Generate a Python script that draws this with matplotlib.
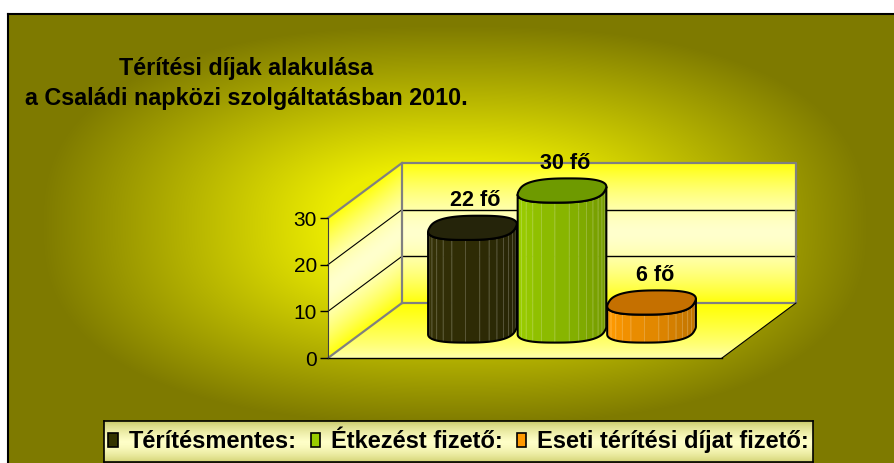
import numpy as np
import matplotlib
matplotlib.use("Agg")
import matplotlib.pyplot as plt
from matplotlib.patches import Polygon, Patch
from matplotlib.colors import to_rgb

#===[ ADATOK ]===============================================================#
kategoriak = ["Térítésmentes:", "Étkezést fizető:", "Eseti térítési díjat fizető:"]
ertekek = [22, 30, 6]
cimkek = ["22 fő", "30 fő", "6 fő"]
y_tickek = [0, 10, 20, 30]
cim_1 = "Térítési díjak alakulása"
cim_2 = "a Családi napközi szolgáltatásban 2010."

#===[ STILUS ]===============================================================#
oszlop_szinek = ["#343106", "#99cc00", "#ff9900"]
teto_szinek = ["#25240a", "#6e9a00", "#c57000"]
jelmagyarazat_szinek = ["#333300", "#99cc00", "#ff9900"]

W, H = 895, 463
X0_PX, X1_PX = 328, 722        # elso sik bal/jobb szele
Y0_PX, YMAX_PX = 358, 218      # 0 es 30 ertek magassaga (felulrol)
MELYSEG_PX = (74, 55)
Y_MAX = 30
GAP = 1.4

plt.rcParams['font.family'] = ['Liberation Sans', 'DejaVu Sans']

ppx = X1_PX - X0_PX
ppy = (Y0_PX - YMAX_PX) / Y_MAX
DX = MELYSEG_PX[0] / ppx
DY = MELYSEG_PX[1] / ppy


def px_x(px):
    return (px - X0_PX) / ppx


def px_y(py):
    return (Y0_PX - py) / ppy


def keverd(c1, c2, t):
    c1 = np.array(c1, dtype=float) / 255
    c2 = np.array(c2, dtype=float) / 255
    t = np.clip(t, 0, 1)[..., None]
    return c1 * (1 - t) + c2 * t


fig = plt.figure(figsize=(W / 100, H / 100), dpi=100)

#===[ HATTER ]===============================================================#
bg = fig.add_axes([0, 0, 1, 1])
bg.set_xlim(0, W)
bg.set_ylim(H, 0)
bg.axis('off')
gx, gy = np.meshgrid(np.arange(W) + 0.5, np.arange(H) + 0.5)
u = ((np.abs(gx - 455) / 440) ** 2.5 + (np.abs(gy - 225) / 212) ** 2.5) ** (1 / 2.5)
f = np.clip((u - 0.28) / 0.66, 0, 1)
kep = keverd((236, 236, 0), (126, 122, 0), f)
kep[(gx < 8) | (gy < 14)] = 1.0
bg.imshow(kep, extent=(0, W, H, 0), aspect='auto', interpolation='bilinear', zorder=0)
bg.plot([8, 8], [14, H], color='black', lw=1.5, zorder=1)
bg.plot([8, W], [14, 14], color='black', lw=1.5, zorder=1)

#===[ FO TENGELY ]===========================================================#
ax = fig.add_axes([0, 0, 1, 1])
ax.set_facecolor('none')
ax.set_xlim(px_x(0), px_x(W))
ax.set_ylim(px_y(H), px_y(0))


def gradiens_poligon(csucsok, szin_fv, zorder):
    csucsok = np.array(csucsok)
    x0, y0 = csucsok.min(axis=0)
    x1, y1 = csucsok.max(axis=0)
    mx, my = np.meshgrid(np.linspace(x0, x1, 200), np.linspace(y0, y1, 200))
    im = ax.imshow(szin_fv(mx, my), extent=(x0, x1, y0, y1), origin='lower',
                   aspect='auto', interpolation='bilinear', zorder=zorder)
    im.set_clip_path(Polygon(csucsok, closed=True, transform=ax.transData))


def fal_szin(v):
    t = np.abs(v / Y_MAX * 2 - 1)
    return keverd((255, 255, 205), (255, 255, 10), t ** 1.6)


hatso = [(DX, DY), (1 + DX, DY), (1 + DX, Y_MAX + DY), (DX, Y_MAX + DY)]
oldal = [(0, 0), (DX, DY), (DX, Y_MAX + DY), (0, Y_MAX)]
padlo = [(0, 0), (1, 0), (1 + DX, DY), (DX, DY)]

gradiens_poligon(hatso, lambda x, y: fal_szin(y - DY), 0.2)
gradiens_poligon(oldal, lambda x, y: fal_szin(y - (x / DX) * DY), 0.2)
gradiens_poligon(padlo, lambda x, y: keverd((255, 255, 175), (255, 255, 0), (y / DY) ** 0.8), 0.2)

# racsvonalak
for v in y_tickek[1:-1]:
    ax.plot([DX, 1 + DX], [v + DY, v + DY], color='black', lw=1, zorder=0.5)
    ax.plot([0, DX], [v, v + DY], color='black', lw=0.8, zorder=0.5)

# falak kerete
hx = [p[0] for p in hatso] + [hatso[0][0]]
hy = [p[1] for p in hatso] + [hatso[0][1]]
ax.plot(hx, hy, color='#808080', lw=1.6, zorder=0.6)
ax.plot([0, DX], [Y_MAX, Y_MAX + DY], color='#808080', lw=1.6, zorder=0.6)
ax.plot([0, DX], [0, DY], color='#808080', lw=1.6, zorder=0.6)
ax.plot([0, 1], [0, 0], color='black', lw=1, zorder=0.6)
ax.plot([1, 1 + DX], [0, DY], color='black', lw=0.8, zorder=0.6)

# y tengely
for nev in ['top', 'right', 'bottom']:
    ax.spines[nev].set_visible(False)
ax.spines['left'].set_position(('data', 0))
ax.spines['left'].set_bounds(0, Y_MAX)
ax.spines['left'].set_color('#404040')
ax.set_axisbelow(False)
ax.set_xticks([])
ax.set_yticks(y_tickek)
ax.tick_params(axis='y', length=6, width=1, color='black', labelsize=15, pad=2)

#===[ HENGEREK ]=============================================================#
n = len(ertekek)
w = 1 / (n + GAP)
a = 0.48 * w
rz = 0.2
s = 0.45 * rz * DX
b = 0.22 * DY
KITEVO = 0.75   # szogletesebb ellipszis


def sp(x):
    return np.sign(x) * np.abs(x) ** KITEVO


def ellipszis(cx, cy, t):
    return cx + a * sp(np.cos(t)) + s * sp(np.sin(t)), cy + b * sp(np.sin(t))


# elulso ív hatarai (bal es jobb szelso pont)
tt = np.linspace(0, 2 * np.pi, 1441)
ex0, _ = ellipszis(0, 0, tt)
t_jobb = tt[np.argmax(ex0)]
t_bal = tt[np.argmin(ex0)]
if t_jobb < t_bal:
    t_jobb += 2 * np.pi

z = 3
for i, v in enumerate(ertekek):
    cx = 0.5 + (i - (n - 1) / 2) * w + 0.5 * DX
    yb = 0.5 * DY
    yt = v + 0.5 * DY
    alap = np.array(to_rgb(oszlop_szinek[i]))

    tk = np.linspace(t_bal, t_jobb, 15)
    bx, by = ellipszis(cx, yb, tk)
    tx, ty = ellipszis(cx, yt, tk)
    for k in range(len(tk) - 1):
        tm = (tk[k] + tk[k + 1]) / 2
        fak = 0.9 - 0.13 * np.cos(tm)
        szin = np.clip(alap * fak, 0, 1)
        if fak > 1:
            szin = szin + (1 - szin) * (fak - 1) * 0.5
        vilagos = szin + (1 - szin) * 0.22
        quad = [(bx[k], by[k]), (bx[k + 1], by[k + 1]), (tx[k + 1], ty[k + 1]), (tx[k], ty[k])]
        ax.add_patch(Polygon(quad, closed=True, facecolor=szin, edgecolor=vilagos,
                             lw=0.6, zorder=z, clip_on=False))
    bx, by = ellipszis(cx, yb, np.linspace(t_bal, t_jobb, 120))
    tx, ty = ellipszis(cx, yt, np.linspace(t_bal, t_jobb, 120))
    test = list(zip(bx, by)) + list(zip(tx[::-1], ty[::-1]))
    ax.add_patch(Polygon(test, closed=True, facecolor='none', edgecolor='black',
                         lw=1.5, zorder=z + 0.1, clip_on=False))
    ex, ey = ellipszis(cx, yt, np.linspace(0, 2 * np.pi, 241))
    ax.add_patch(Polygon(list(zip(ex, ey)), closed=True, facecolor=teto_szinek[i],
                         edgecolor='black', lw=1.5, zorder=z + 0.2, clip_on=False))
    ax.text(cx + 0.008, yt + b + 2.0, cimkek[i], ha='center', va='baseline',
            fontsize=15.5, fontweight='bold', zorder=z + 0.3)
    z += 1

#===[ CIM ]==================================================================#
fig.text(246 / W, 1 - 75 / H, cim_1, ha='center', va='baseline', fontsize=16.8, fontweight='bold')
fig.text(246 / W, 1 - 105 / H, cim_2, ha='center', va='baseline', fontsize=16.8, fontweight='bold')

#===[ JELMAGYARAZAT ]========================================================#
lax = fig.add_axes([104 / W, 1 - 462 / H, (813 - 104) / W, (462 - 421) / H])
lg = np.linspace(0, 1, 60)
felso = keverd((196, 196, 96), (255, 255, 200), np.clip(lg / 0.5, 0, 1) ** 0.6)
also = keverd((255, 255, 200), (214, 214, 120), np.clip((lg - 0.5) / 0.5, 0, 1) ** 1.6)
lkep = np.where((lg < 0.5)[:, None], felso, also)[:, None, :]
lax.imshow(lkep, extent=(0, 1, 1, 0), aspect='auto', interpolation='bilinear')
lax.set_xlim(0, 1)
lax.set_ylim(1, 0)
lax.set_xticks([])
lax.set_yticks([])
for sp_ in lax.spines.values():
    sp_.set_color('black')
    sp_.set_linewidth(1.2)
kezelok = [Patch(facecolor=c, edgecolor='black', lw=1.2) for c in jelmagyarazat_szinek]
lax.legend(kezelok, kategoriak, loc='center', ncol=3, frameon=False,
           prop={'size': 17, 'weight': 'bold'}, handlelength=0.4, handleheight=0.55,
           handletextpad=0.45, columnspacing=0.6, borderaxespad=0, borderpad=0)

fig.savefig("out.png", dpi=100)
